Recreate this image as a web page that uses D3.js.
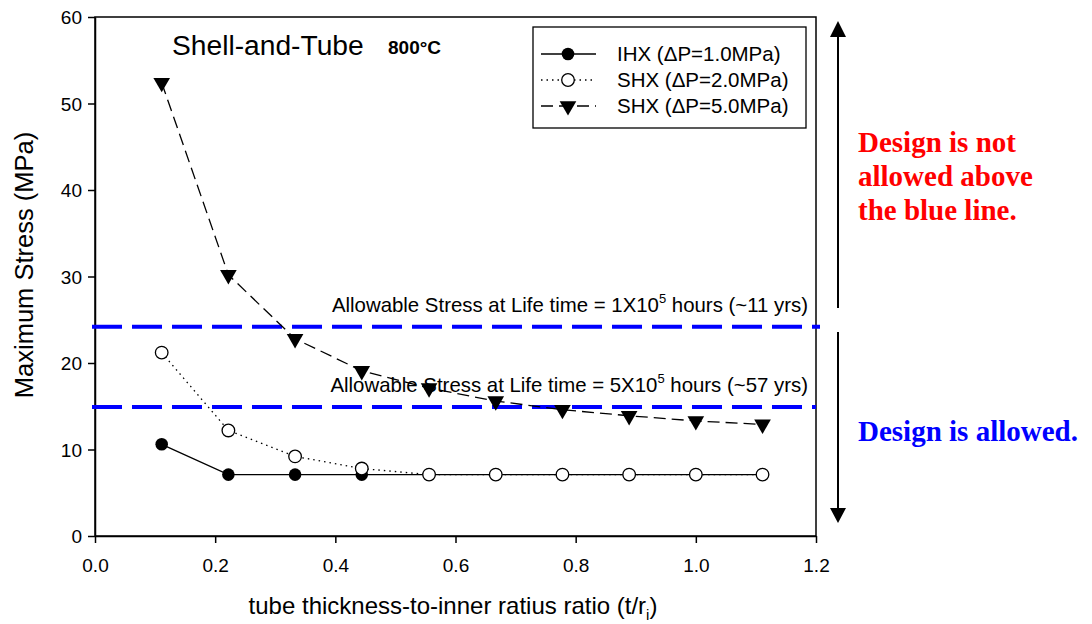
<!DOCTYPE html>
<html><head><meta charset="utf-8">
<script src="https://cdn.jsdelivr.net/npm/d3@7"></script>
<style>body{margin:0;background:#fff}svg{display:block}</style>
</head><body><svg id="c" width="1092" height="624"></svg>
<script>
const ratios = [0.111, 0.222, 0.333, 0.444, 0.556, 0.667, 0.778, 0.889, 1.0, 1.111];
const ihx1 = [10.6, 7.1, 7.1, 7.1, 7.1, 7.1, 7.1, 7.1, 7.1, 7.1];
const shx2 = [21.2, 12.2, 9.2, 7.8, 7.1, 7.1, 7.1, 7.1, 7.1, 7.1];
const shx5 = [52.4, 30.2, 22.8, 19.1, 17.1, 15.6, 14.6, 13.9, 13.3, 12.9];
const seriesNames = ["IHX (\u0394P=1.0MPa)", "SHX (\u0394P=2.0MPa)", "SHX (\u0394P=5.0MPa)"];
const allowable = [24.2, 14.9];
const allowableLabels = [["Allowable Stress at Life time = 1X10", "5", " hours (~11 yrs)"],
                         ["Allowable Stress at Life time = 5X10", "5", " hours (~57 yrs)"]];
const xTicks = [0, 0.2, 0.4, 0.6, 0.8, 1.0, 1.2];
const yTicks = [0, 10, 20, 30, 40, 50, 60];

const svg = d3.select("#c");
const L = 95, R = 816, T = 17, B = 536;
const x = d3.scaleLinear().domain([0, 1.2]).range([L, R]);
const y = d3.scaleLinear().domain([0, 60]).range([B, T]);
const font = "Arial, 'Liberation Sans', sans-serif";

// frame
svg.append("rect").attr("x", L).attr("y", T).attr("width", R - L).attr("height", B - T)
  .attr("fill", "none").attr("stroke", "#000").attr("stroke-width", 1.5);

const xa = svg.append("g").attr("transform", `translate(0,${B})`)
  .call(d3.axisBottom(x).tickValues(xTicks).tickFormat(d3.format(".1f")).tickSize(7).tickSizeOuter(0));
const ya = svg.append("g").attr("transform", `translate(${L},0)`)
  .call(d3.axisLeft(y).tickValues(yTicks).tickFormat(d3.format("d")).tickSize(7).tickSizeOuter(0));
[xa, ya].forEach(a => {
  a.select(".domain").attr("stroke-width", 1.5);
  a.selectAll(".tick line").attr("stroke-width", 1.5);
  a.selectAll("text").attr("font-family", font).attr("font-size", 19).attr("fill", "#000");
});
xa.selectAll("text").attr("y", 36).attr("dy", 0);
ya.selectAll("text").attr("x", -13).attr("dy", "0.35em");

// axis titles
svg.append("text").attr("transform", `translate(33,265) rotate(-90)`)
  .attr("text-anchor", "middle").attr("font-family", font).attr("font-size", 25.5).text("Maximum Stress (MPa)");
const xt = svg.append("text").attr("x", 453).attr("y", 614).attr("text-anchor", "middle")
  .attr("font-family", font).attr("font-size", 24);
xt.append("tspan").text("tube thickness-to-inner ratius ratio (t/r");
xt.append("tspan").attr("font-size", 15).attr("dy", 6).text("i");
xt.append("tspan").attr("dy", -6).text(")");

// allowable lines
allowable.forEach((v, i) => {
  svg.append("line").attr("x1", L - 3).attr("x2", i === 0 ? R + 4 : R).attr("y1", y(v)).attr("y2", y(v))
    .attr("stroke", "#0000ff").attr("stroke-width", 4).attr("stroke-dasharray", "30,10");
  const t = svg.append("text").attr("x", 808).attr("y", y(v) - 15).attr("text-anchor", "end")
    .attr("font-family", font).attr("font-size", 20.4);
  t.append("tspan").text(allowableLabels[i][0]);
  t.append("tspan").attr("font-size", 13).attr("dy", -9).text(allowableLabels[i][1]);
  t.append("tspan").attr("dy", 9).text(allowableLabels[i][2]);
});

// series
const line = d3.line().x(d => x(d[0])).y(d => y(d[1]));
const styles = [
  {vals: ihx1, dash: null, marker: "fc"},
  {vals: shx2, dash: "1.5,4", marker: "oc"},
  {vals: shx5, dash: "12,6", marker: "tri"}
];
function drawMarker(g, type, cx, cy) {
  if (type === "fc") g.append("circle").attr("cx", cx).attr("cy", cy).attr("r", 6.3).attr("fill", "#000");
  else if (type === "oc") g.append("circle").attr("cx", cx).attr("cy", cy).attr("r", 6.3).attr("fill", "#fff").attr("stroke", "#000").attr("stroke-width", 1.3);
  else g.append("path").attr("d", d3.symbol().type(d3.symbolTriangle).size(120)()).attr("transform", `translate(${cx},${cy}) rotate(180)`).attr("fill", "#000");
}
styles.forEach(s => {
  const pts = ratios.map((r, i) => [r, s.vals[i]]);
  svg.append("path").datum(pts).attr("d", line).attr("fill", "none").attr("stroke", "#000")
    .attr("stroke-width", 1.3).attr("stroke-dasharray", s.dash);
});
styles.forEach(s => {
  const g = svg.append("g");
  ratios.forEach((r, i) => drawMarker(g, s.marker, x(r), y(s.vals[i])));
});

// title
svg.append("text").attr("x", 172).attr("y", 55).attr("font-family", font).attr("font-size", 28.2).text("Shell-and-Tube");
svg.append("text").attr("x", 388).attr("y", 54).attr("font-family", font).attr("font-size", 19).attr("font-weight", "bold").text("800\u00b0C");

// legend
svg.append("rect").attr("x", 533).attr("y", 27).attr("width", 273).attr("height", 101)
  .attr("fill", "#fff").attr("stroke", "#000").attr("stroke-width", 1.3);
styles.forEach((s, i) => {
  const ly = 54 + i * 26;
  svg.append("line").attr("x1", 541).attr("x2", 596).attr("y1", ly).attr("y2", ly)
    .attr("stroke", "#000").attr("stroke-width", 1.3).attr("stroke-dasharray", s.dash);
  drawMarker(svg, s.marker, 568, ly);
  svg.append("text").attr("x", 617).attr("y", ly + 7).attr("font-family", font).attr("font-size", 20.5).text(seriesNames[i]);
});

// right-side arrows
const ax = 838;
svg.append("line").attr("x1", ax).attr("x2", ax).attr("y1", 34).attr("y2", 308).attr("stroke", "#000").attr("stroke-width", 2);
svg.append("line").attr("x1", ax).attr("x2", ax).attr("y1", 332).attr("y2", 510).attr("stroke", "#000").attr("stroke-width", 2);
svg.append("path").attr("d", `M${ax},21 L${ax - 8},37 L${ax + 8},37 Z`).attr("fill", "#000");
svg.append("path").attr("d", `M${ax},523 L${ax - 8},508 L${ax + 8},508 Z`).attr("fill", "#000");

const serif = "'Liberation Serif', 'Times New Roman', serif";
const red = svg.append("text").attr("font-family", serif).attr("font-size", 29).attr("font-weight", "bold").attr("fill", "#ff0000");
["Design is not", "allowed above", "the blue line."].forEach((s, i) =>
  red.append("tspan").attr("x", 858).attr("y", 152 + i * 34).text(s));
svg.append("text").attr("x", 858).attr("y", 441).attr("font-family", serif).attr("font-size", 29)
  .attr("font-weight", "bold").attr("fill", "#0000ff").text("Design is allowed.");
</script></body></html>
